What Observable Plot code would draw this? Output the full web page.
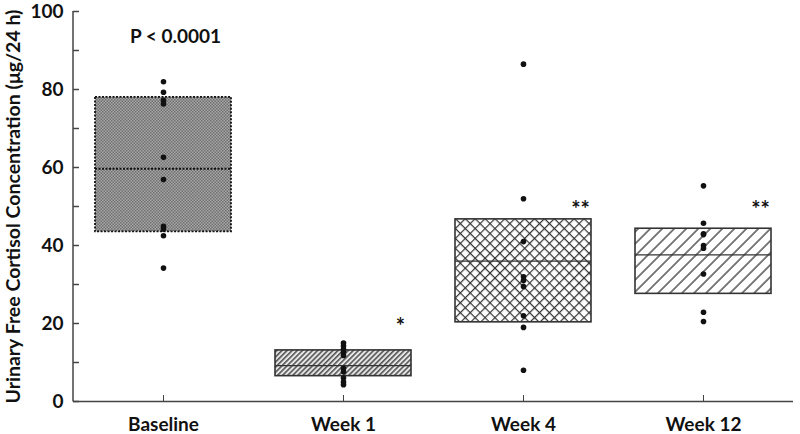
<!DOCTYPE html>
<html>
<head>
<meta charset="utf-8">
<script src="https://cdn.jsdelivr.net/npm/d3@7"></script>
<script src="https://cdn.jsdelivr.net/npm/@observablehq/plot@0.6"></script>
<style>
  html, body { margin: 0; padding: 0; background: #fff; }
  svg { font-family: Lato, "Open Sans", sans-serif; }
</style>
</head>
<body>
<div id="chart"></div>
<script>
const categories = ["Baseline", "Week 1", "Week 4", "Week 12"];
const q1 = [43.5, 6.5, 20.3, 27.6];
const medians = [59.7, 9.2, 36.0, 37.6];
const q3 = [78.0, 13.1, 46.7, 44.3];
const patterns = ["pBase", "pW1", "pW4", "pW12"];

const baselinePts = [82.0, 79.3, 77.2, 76.3, 62.6, 56.9, 44.9, 44.2, 42.5, 34.2];
const week1Pts = [15.0, 14.2, 13.4, 12.6, 11.8, 8.5, 7.6, 6.0, 5.0, 4.3];
const week4Pts = [86.5, 52.0, 41.0, 32.0, 31.0, 29.5, 22.0, 19.0, 8.0];
const week12Pts = [55.3, 45.7, 43.0, 42.8, 40.0, 39.3, 32.7, 22.9, 20.5];

const yLabelTicks = [0, 20, 40, 60, 80, 100];
const yMinorTicks = [0, 10, 20, 30, 40, 50, 60, 70, 80, 90, 100];
const yTitle = "Urinary Free Cortisol Concentration (\u03bcg/24 h)";

const pText = ["P < 0.0001"];
const pValue = [93.5];
const starCats = ["Week 1", "Week 4", "Week 12"];
const starLabels = ["*", "**", "**"];
const starValues = [19.2, 49.0, 49.0];

const boxes = categories.map((c, i) => ({cat: c, q1: q1[i], med: medians[i], q3: q3[i], pat: patterns[i]}));
const pts = [
  ...baselinePts.map(v => ({cat: "Baseline", v})),
  ...week1Pts.map(v => ({cat: "Week 1", v})),
  ...week4Pts.map(v => ({cat: "Week 4", v})),
  ...week12Pts.map(v => ({cat: "Week 12", v}))
];
const stars = starCats.map((c, i) => ({cat: c, t: starLabels[i], v: starValues[i]}));
const pAnn = pText.map((t, i) => ({cat: "Baseline", t, v: pValue[i]}));

const solidBoxes = boxes.filter(d => d.cat !== "Baseline");
const dottedBoxes = boxes.filter(d => d.cat === "Baseline");

const chart = Plot.plot({
  width: 800,
  height: 434,
  marginLeft: 73,
  marginRight: 7,
  marginTop: 11,
  marginBottom: 33,
  style: {fontFamily: "Lato, 'Open Sans', sans-serif", background: "#fff"},
  x: {domain: categories, padding: 0, label: null},
  y: {domain: [0, 100], label: null},
  marks: [
    Plot.barY(solidBoxes, {x: "cat", y1: "q1", y2: "q3", fill: d => `url(#${d.pat})`, stroke: "#333", strokeWidth: 1.6, insetLeft: 22, insetRight: 22}),
    Plot.barY(dottedBoxes, {x: "cat", y1: "q1", y2: "q3", fill: d => `url(#${d.pat})`, stroke: "#111", strokeWidth: 1.8, strokeDasharray: "2,1.5", insetLeft: 22, insetRight: 22}),
    Plot.tickY(solidBoxes, {x: "cat", y: "med", stroke: "#333", strokeWidth: 1.3, insetLeft: 22, insetRight: 22}),
    Plot.tickY(dottedBoxes, {x: "cat", y: "med", stroke: "#111", strokeWidth: 2, strokeDasharray: "2,1.5", insetLeft: 22, insetRight: 22}),
    Plot.dot(pts, {x: "cat", y: "v", r: 2.8, fill: "#111", stroke: "none"}),
    Plot.ruleY([0], {stroke: "#444", strokeWidth: 1.5}),
    Plot.axisY(yMinorTicks, {tickSize: -6, tickFormat: () => "", stroke: "#444", strokeWidth: 1.5}),
    Plot.axisY(yLabelTicks, {tickSize: 0, tickPadding: 10, fontSize: 19, fontWeight: "bold", fill: "#111", label: null}),
    Plot.axisX({tickSize: -6, tickPadding: 22, fontSize: 19, fontWeight: "bold", fill: "#111", stroke: "#444", label: null}),
    Plot.text([yTitle], {frameAnchor: "left", textAnchor: "middle", rotate: -90, dx: -60, fontSize: 19.5, fontWeight: "bold", fill: "#111"}),
    Plot.text(pAnn, {x: "cat", y: "v", text: "t", dx: 12, fontSize: 19, fontWeight: "bold", fill: "#111"}),
    Plot.text(stars, {x: "cat", y: "v", text: "t", dx: 57, fontSize: 22, fontWeight: "bold", fill: "#111"})
  ]
});

// left axis line
const svg = d3.select(chart);
svg.append("line")
  .attr("x1", 73).attr("x2", 73).attr("y1", 11).attr("y2", 401.5)
  .attr("stroke", "#444").attr("stroke-width", 1.5);

const defs = svg.insert("defs", ":first-child");
// Baseline: fine gray checker
const pb = defs.append("pattern").attr("id", "pBase").attr("patternUnits", "userSpaceOnUse").attr("width", 3).attr("height", 3);
pb.append("rect").attr("width", 3).attr("height", 3).attr("fill", "#a8a8a8");
pb.append("rect").attr("x", 0).attr("y", 0).attr("width", 1.5).attr("height", 1.5).attr("fill", "#6e6e6e");
pb.append("rect").attr("x", 1.5).attr("y", 1.5).attr("width", 1.5).attr("height", 1.5).attr("fill", "#6e6e6e");
// Week 1: dense "/" hatch
const p1 = defs.append("pattern").attr("id", "pW1").attr("patternUnits", "userSpaceOnUse").attr("width", 3.6).attr("height", 3.6).attr("patternTransform", "rotate(45)");
p1.append("rect").attr("width", 3.6).attr("height", 3.6).attr("fill", "#e6e6e6");
p1.append("line").attr("x1", 0.8).attr("x2", 0.8).attr("y1", 0).attr("y2", 3.6).attr("stroke", "#555").attr("stroke-width", 1.6);
// Week 4: crosshatch
const p4 = defs.append("pattern").attr("id", "pW4").attr("patternUnits", "userSpaceOnUse").attr("width", 7).attr("height", 7).attr("patternTransform", "rotate(45)");
p4.append("rect").attr("width", 7).attr("height", 7).attr("fill", "#fff");
p4.append("line").attr("x1", 0.6).attr("x2", 0.6).attr("y1", 0).attr("y2", 7).attr("stroke", "#333").attr("stroke-width", 1.2);
p4.append("line").attr("y1", 0.6).attr("y2", 0.6).attr("x1", 0).attr("x2", 7).attr("stroke", "#333").attr("stroke-width", 1.2);
// Week 12: sparse "/" hatch
const p12 = defs.append("pattern").attr("id", "pW12").attr("patternUnits", "userSpaceOnUse").attr("width", 8.5).attr("height", 8.5).attr("patternTransform", "rotate(45)");
p12.append("rect").attr("width", 8.5).attr("height", 8.5).attr("fill", "#fff");
p12.append("line").attr("x1", 1).attr("x2", 1).attr("y1", 0).attr("y2", 8.5).attr("stroke", "#333").attr("stroke-width", 1.3);

document.getElementById("chart").appendChild(chart);
</script>
</body>
</html>
